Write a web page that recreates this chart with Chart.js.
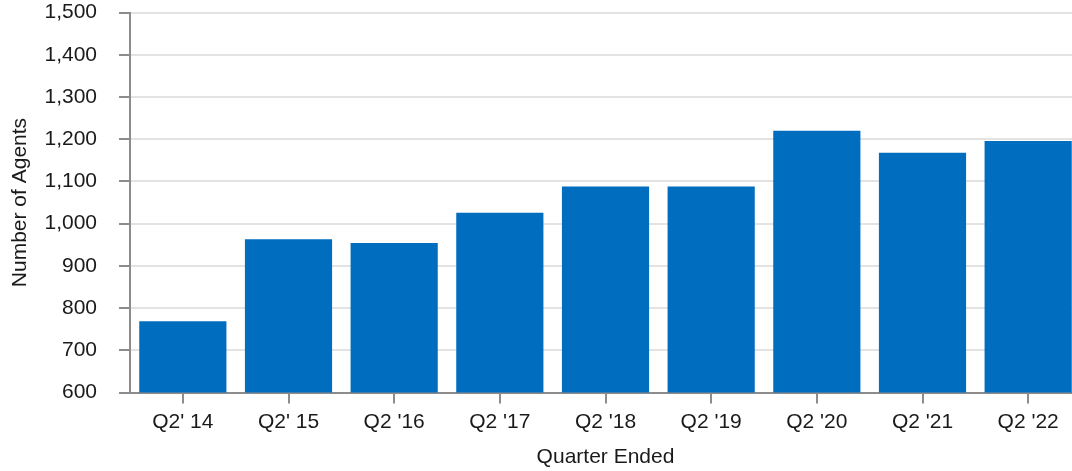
<!DOCTYPE html>
<html lang="en">
<head>
  <meta charset="UTF-8" />
  <title>Number of Agents</title>
  <script src="https://cdn.jsdelivr.net/npm/chart.js@4.4.0/dist/chart.umd.min.js"></script>
  <style>
    html, body { margin: 0; padding: 0; background: #fff; overflow: hidden; }
    /* plot runs slightly past the right edge, as in the reference */
    #wrap { width: 1081px; height: 472px; }
  </style>
</head>
<body>
<div id="wrap"><canvas id="agentsChart"></canvas></div>
<script>
const quarters = ["Q2' 14", "Q2' 15", "Q2 '16", "Q2 '17", "Q2 '18", "Q2 '19", "Q2 '20", "Q2 '21", "Q2 '22"];
const agents = [769, 963, 954, 1026, 1088, 1088, 1220, 1168, 1196];
const yMin = 600;
const yMax = 1500;
const yStep = 100;

const fontFamily = "'Liberation Sans', Arial, sans-serif";
const textColor = '#1a1a1a';

new Chart(document.getElementById('agentsChart').getContext('2d'), {
  type: 'bar',
  data: {
    labels: quarters,
    datasets: [{ label: 'Number of Agents', data: agents, backgroundColor: '#006dbf', barPercentage: 0.825, categoryPercentage: 1.0 }]
  },
  options: {
    responsive: true,
    maintainAspectRatio: false,
    animation: false,
    layout: { padding: { top: 2, right: 0, left: 6, bottom: 0 } },
    plugins: { legend: { display: false }, tooltip: { enabled: false } },
    scales: {
      x: {
        grid: { display: true, drawOnChartArea: false, offset: false, color: '#8c8c8c', lineWidth: 2, tickLength: 11 },
        border: { color: '#8c8c8c', width: 2 },
        ticks: { color: textColor, font: { family: fontFamily, size: 21 }, padding: 6, maxRotation: 0 },
        title: { display: true, text: 'Quarter Ended', color: textColor, font: { family: fontFamily, size: 21 }, padding: { top: 4, bottom: 2 } }
      },
      y: {
        min: yMin,
        max: yMax,
        grid: { color: '#e3e3e3', lineWidth: 2, tickColor: '#8c8c8c', tickLength: 11 },
        border: { color: '#8c8c8c', width: 2 },
        ticks: { stepSize: yStep, color: textColor, font: { family: fontFamily, size: 21 }, padding: 22,
          callback: v => v.toLocaleString('en-US') },
        title: { display: true, text: 'Number of Agents', color: textColor, font: { family: fontFamily, size: 21 }, padding: { top: 2, bottom: 0 } },
        // keep the axis where the reference has it; tick padding would otherwise push the top down
        afterFit: scale => { scale.width = 124; scale.paddingTop = 12.5; }
      }
    }
  }
});
</script>
</body>
</html>
